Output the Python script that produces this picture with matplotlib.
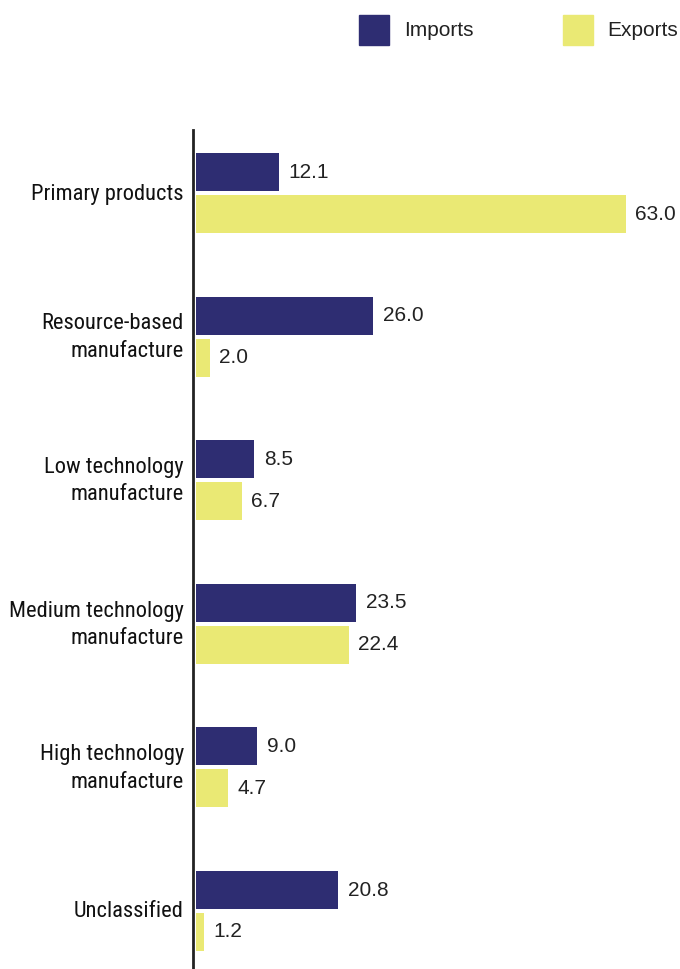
import matplotlib
matplotlib.use("Agg")
import matplotlib.pyplot as plt
from matplotlib import font_manager
import numpy as np

# data
categories = ["Primary products", "Resource-based\nmanufacture", "Low technology\nmanufacture",
              "Medium technology\nmanufacture", "High technology\nmanufacture", "Unclassified"]
imports = [12.1, 26.0, 8.5, 23.5, 9.0, 20.8]
exports = [63.0, 2.0, 6.7, 22.4, 4.7, 1.2]

navy = "#2e2d72"
yellow = "#eae974"
txt = "#222222"

# pick a narrow font for the category names (reference uses a condensed Helvetica)
names = {f.name for f in font_manager.fontManager.ttflist}
wanted = ["Roboto Condensed", "Liberation Sans Narrow", "Archivo Narrow", "PT Sans Narrow",
          "Arial Narrow", "Pragati Narrow", "IBM Plex Sans Condensed", "Fira Sans Condensed",
          "Sofia Sans Condensed", "Encode Sans Condensed", "Asap Condensed"]
narrow = next((n for n in wanted if n in names), "Liberation Sans")

fig = plt.figure(figsize=(6.8, 9.69), dpi=100)
W, H = 680, 969
ax = fig.add_axes([196 / W, 0, 479.5 / W, 839 / H])

y = np.arange(len(categories))
bh = 0.265
off = 0.146
ax.barh(y - off, imports, height=bh, color=navy, label="Imports")
ax.barh(y + off, exports, height=bh, color=yellow, label="Exports")

for yi, v in zip(y - off, imports):
    ax.annotate(f"{v:.1f}", (v, yi), xytext=(10, 0), textcoords="offset pixels",
                va="center", ha="left", fontsize=15, color=txt, family="Liberation Sans")
for yi, v in zip(y + off, exports):
    ax.annotate(f"{v:.1f}", (v, yi), xytext=(9, 0), textcoords="offset pixels",
                va="center", ha="left", fontsize=15, color=txt, family="Liberation Sans")

ax.set_xlim(0, 70.3)
ax.set_ylim(5.404, -0.439)
ax.set_yticks([])
ax.set_xticks([])

# category names, right aligned next to the axis line
trans = ax.get_yaxis_transform()
labels = []
for yi, name in zip(y, categories):
    t = ax.annotate(name, (0, yi), xycoords=trans, xytext=(-12, -1), textcoords="offset pixels",
                    ha="right", va="center", multialignment="right", fontsize=18,
                    color="#111111", family=narrow, linespacing=1.4)
    labels.append(t)

# shrink the names so the longest one fits the space left of the axis (~174 px)
fig.canvas.draw()
widest = max(t.get_window_extent().width for t in labels)
fs = min(18, 18 * 174 / widest)
for t in labels:
    t.set_fontsize(fs)

for s in ["top", "right", "bottom"]:
    ax.spines[s].set_visible(False)
ax.spines["left"].set_position(("outward", 2))
ax.spines["left"].set_linewidth(2)
ax.spines["left"].set_color("#222222")

# legend at the top
fig.patches.append(plt.Rectangle((359 / W, 1 - 45 / H), 30 / W, 30 / H, color=navy,
                                 transform=fig.transFigure, figure=fig))
fig.patches.append(plt.Rectangle((563 / W, 1 - 45 / H), 30 / W, 30 / H, color=yellow,
                                 transform=fig.transFigure, figure=fig))
fig.text(404 / W, 1 - 30 / H, "Imports", va="center", ha="left", fontsize=15,
         color=txt, family="Liberation Sans")
fig.text(607 / W, 1 - 30 / H, "Exports", va="center", ha="left", fontsize=15,
         color=txt, family="Liberation Sans")

fig.savefig("out.png", dpi=100)
